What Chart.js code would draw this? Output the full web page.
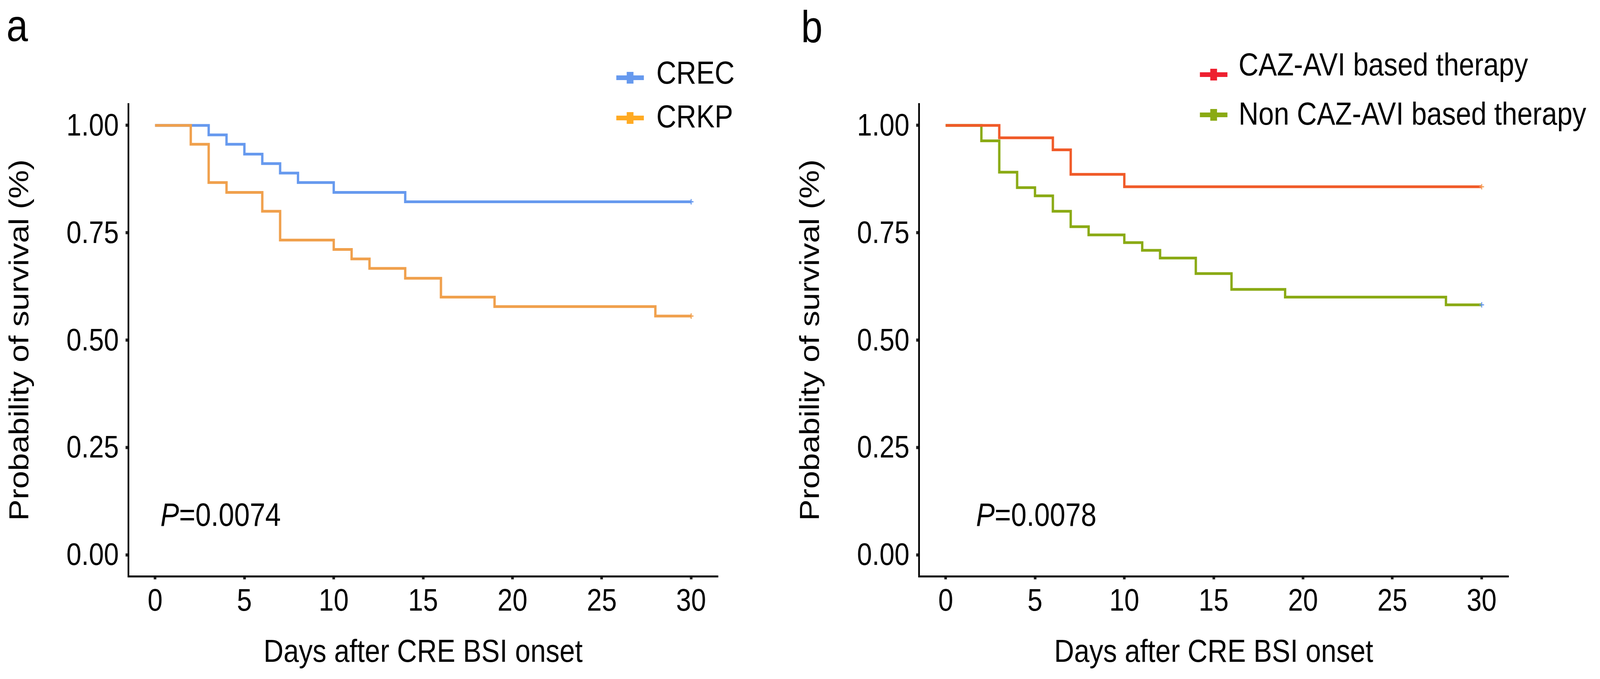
<!DOCTYPE html>
<html>
<head>
<meta charset="utf-8">
<script src="https://cdn.jsdelivr.net/npm/chart.js@4.4.1/dist/chart.umd.min.js"></script>
<style>
  html,body{margin:0;padding:0;background:#fff;overflow:hidden;}
  #wrap{position:relative;background:#fff;}
  canvas{position:absolute;top:0;}
</style>
</head>
<body>
<div id="wrap">
  <canvas id="panelA" width="2349" height="1738"></canvas>
  <canvas id="panelB" width="2405" height="1738"></canvas>
</div>
<script>
// ---------------- DATA ----------------
const xTicks = [0, 5, 10, 15, 20, 25, 30];
const yTicks = [0, 0.25, 0.5, 0.75, 1];

// Panel a
const crecDays = [0, 3, 4, 5, 6, 7, 8, 10, 14, 30];
const crecSurv = [1, 0.978, 0.956, 0.933, 0.911, 0.889, 0.867, 0.844, 0.822, 0.822];
const crkpDays = [0, 2, 3, 4, 6, 7, 10, 11, 12, 14, 16, 19, 28, 30];
const crkpSurv = [1, 0.956, 0.867, 0.844, 0.8, 0.733, 0.711, 0.689, 0.667, 0.644, 0.6, 0.578, 0.556, 0.556];

// Panel b
const cazDays = [0, 3, 6, 7, 10, 30];
const cazSurv = [1, 0.971, 0.943, 0.886, 0.857, 0.857];
const nonDays = [0, 2, 3, 4, 5, 6, 7, 8, 10, 11, 12, 14, 16, 19, 28, 30];
const nonSurv = [1, 0.964, 0.891, 0.855, 0.836, 0.8, 0.764, 0.745, 0.727, 0.709, 0.691, 0.655, 0.618, 0.6, 0.582, 0.582];

const seriesA = ['CREC', 'CRKP'];
const seriesB = ['CAZ-AVI based therapy', 'Non CAZ-AVI based therapy'];
const pValueA = '=0.0074';
const pValueB = '=0.0078';
const xTitle = 'Days after CRE BSI onset';
const yTitle = 'Probability of survival (%)';

// ---------------- PAGE SCALE (fit design to the real viewport) ----------------
const DESIGN_W = 4754, DESIGN_H = 1738;
const SX = (window.innerWidth || DESIGN_W) / DESIGN_W;
const SY = (window.innerHeight || DESIGN_H) / DESIGN_H;
const wrap = document.getElementById('wrap');
wrap.style.width = (DESIGN_W * SX) + 'px';
wrap.style.height = (DESIGN_H * SY) + 'px';
function placeCanvas(id, left, w) {
  const c = document.getElementById(id);
  c.style.left = (left * SX) + 'px';
  c.style.width = (w * SX) + 'px';
  c.style.height = (DESIGN_H * SY) + 'px';
}
placeCanvas('panelA', 0, 2349);
placeCanvas('panelB', 2349, 2405);

// ---------------- STYLE ----------------
const FONT = "'Liberation Sans', Arial, Helvetica, sans-serif";

function pts(days, surv) {
  return days.map((d, i) => ({ x: d, y: surv[i] }));
}

function dataset(label, days, surv, color, censorColor, order) {
  const last = days.length - 1;
  return {
    label: label,
    data: pts(days, surv),
    stepped: 'before',
    borderColor: color,
    borderWidth: 7,
    borderJoinStyle: 'miter',
    borderCapStyle: 'butt',
    fill: false,
    order: order,
    pointStyle: 'cross',
    pointRadius: ctx => (ctx.dataIndex === last ? 7 : 0),
    pointHoverRadius: 0,
    pointBorderColor: censorColor,
    pointBorderWidth: 3,
    pointBackgroundColor: censorColor
  };
}

function annotationPlugin(spec) {
  return {
    id: 'annot_' + spec.letter,
    afterDraw(chart) {
      const ctx = chart.ctx;
      const xs = chart.scales.x, ys = chart.scales.y;
      ctx.save();
      ctx.fillStyle = '#000';
      ctx.textBaseline = 'alphabetic';
      ctx.textAlign = 'left';
      ctx.font = '115px ' + FONT;
      ctx.fillText(spec.letter, spec.letterX, spec.letterY);
      const px = xs.getPixelForValue(spec.pX);
      const py = ys.getPixelForValue(spec.pY);
      ctx.textBaseline = 'middle';
      ctx.font = 'italic 83px ' + FONT;
      ctx.fillText('P', px, py);
      const w = ctx.measureText('P').width;
      ctx.font = '83px ' + FONT;
      ctx.fillText(spec.pText, px + w, py);
      spec.legend.forEach(item => {
        ctx.strokeStyle = item.color;
        ctx.lineWidth = 12;
        ctx.lineCap = 'butt';
        ctx.beginPath();
        ctx.moveTo(item.mx - 41, item.my);
        ctx.lineTo(item.mx + 41, item.my);
        ctx.stroke();
        ctx.fillStyle = item.color;
        ctx.fillRect(item.mx - 10, item.my - 15, 20, 30);
        ctx.fillStyle = '#000';
        ctx.font = '82px ' + FONT;
        ctx.textBaseline = 'middle';
        ctx.fillText(item.text, item.tx, item.ty);
      });
      ctx.restore();
    }
  };
}

function makeChart(id, datasets, canvasW, spec) {
  const plotRight = 2133;
  return new Chart(document.getElementById(id), {
    type: 'line',
    data: { datasets: datasets },
    options: {
      responsive: false,
      animation: false,
      devicePixelRatio: 1,
      layout: { padding: { left: 0, top: 266, right: canvasW - plotRight, bottom: 0 } },
      plugins: { legend: { display: false }, tooltip: { enabled: false }, title: { display: false } },
      events: [],
      scales: {
        x: {
          type: 'linear',
          min: -1.5,
          max: 31.5,
          afterBuildTicks: s => { s.ticks = xTicks.map(v => ({ value: v })); },
          afterFit: s => { s.height = 263; },
          border: { display: true, color: '#000', width: 5 },
          grid: { display: true, drawOnChartArea: false, drawTicks: true, tickLength: 8, tickWidth: 8, tickColor: '#222' },
          ticks: { font: { family: FONT, size: 80 }, color: '#000', padding: 10, maxRotation: 0, autoSkip: false,
                   callback: v => String(v) },
          title: { display: true, text: xTitle, color: '#000', font: { family: FONT, size: 82, lineHeight: 1 },
                   padding: { top: 0, bottom: 26 } }
        },
        y: {
          type: 'linear',
          min: -0.05,
          max: 1.05,
          afterBuildTicks: s => { s.ticks = yTicks.map(v => ({ value: v })); },
          afterFit: s => { s.width = 381; },
          border: { display: true, color: '#000', width: 5 },
          grid: { display: true, drawOnChartArea: false, drawTicks: true, tickLength: 8, tickWidth: 8, tickColor: '#222' },
          ticks: { font: { family: FONT, size: 80 }, color: '#000', padding: 20, autoSkip: false, labelOffset: 4,
                   callback: v => Number(v).toFixed(2) },
          title: { display: true, text: yTitle, color: '#000', font: { family: FONT, size: 82, lineHeight: 1 },
                   padding: { top: 20, bottom: 0 } }
        }
      }
    },
    plugins: [annotationPlugin(spec)]
  });
}

makeChart('panelA', [
  dataset(seriesA[0], crecDays, crecSurv, '#6699EE', '#6699EE', 2),
  dataset(seriesA[1], crkpDays, crkpSurv, '#F0A04C', '#F0A04C', 1)
], 2349, {
  letter: 'a', letterX: 19, letterY: 105,
  pX: 0.3, pY: 0.088, pText: pValueA,
  legend: [
    { text: seriesA[0], color: '#6699EE', mx: 1872, my: 199, tx: 1950, ty: 191 },
    { text: seriesA[1], color: '#FFAA22', mx: 1872, my: 302, tx: 1950, ty: 303 }
  ]
});

makeChart('panelB', [
  dataset(seriesB[0], cazDays, cazSurv, '#F05A28', '#F5A05A', 1),
  dataset(seriesB[1], nonDays, nonSurv, '#8AAA14', '#6699EE', 2)
], 2405, {
  letter: 'b', letterX: 31, letterY: 108,
  pX: 1.7, pY: 0.088, pText: pValueB,
  legend: [
    { text: seriesB[0], color: '#EE2030', mx: 1257, my: 191, tx: 1331, ty: 170 },
    { text: seriesB[1], color: '#8AAA14', mx: 1257, my: 294, tx: 1331, ty: 296 }
  ]
});
</script>
</body>
</html>
